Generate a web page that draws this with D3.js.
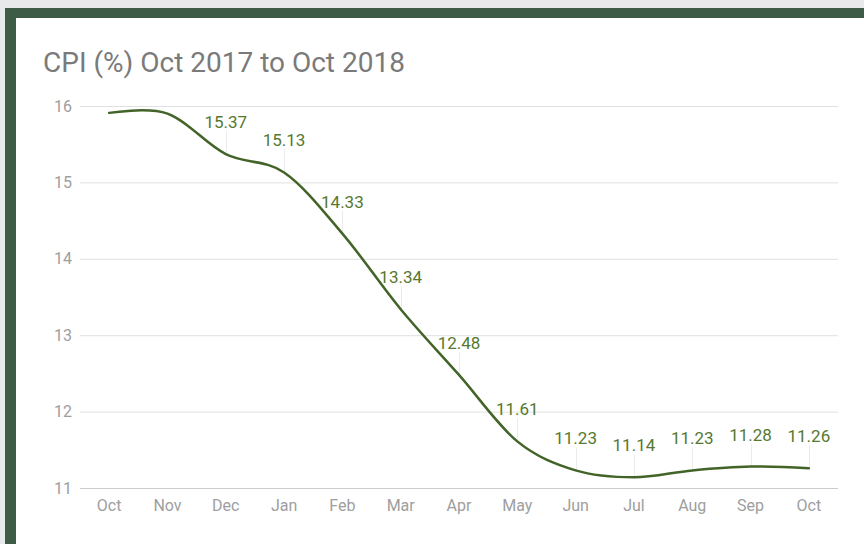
<!DOCTYPE html>
<html><head><meta charset="utf-8">
<script src="https://cdn.jsdelivr.net/npm/d3@7"></script>
<style>
html,body{margin:0;padding:0;background:#e8e9ea;}
svg{display:block;}
</style></head>
<body>
<svg id="chart" width="864" height="544"></svg>
<script>
const months = ["Oct","Nov","Dec","Jan","Feb","Mar","Apr","May","Jun","Jul","Aug","Sep","Oct"];
const cpi = [15.91, 15.90, 15.37, 15.13, 14.33, 13.34, 12.48, 11.61, 11.23, 11.14, 11.23, 11.28, 11.26];
const showLabel = [false, false, true, true, true, true, true, true, true, true, true, true, true];
const yTicks = [11, 12, 13, 14, 15, 16];
const title = "CPI (%) Oct 2017 to Oct 2018";

const svg = d3.select("#chart");
// frame
svg.append("rect").attr("x",5).attr("y",8).attr("width",859).attr("height",536).attr("fill","#3d5b46");
svg.append("rect").attr("x",16).attr("y",18).attr("width",848).attr("height",526).attr("fill","#ffffff");

svg.append("text").attr("x",43).attr("y",72).text(title)
  .attr("font-family","Roboto").attr("font-size",28).attr("fill","#7a7a7a");

const idx = months.map((m,i)=>i);
const x = d3.scaleBand().domain(idx).range([80,838]);
const y = d3.scaleLinear().domain([11,16]).range([488,106]);

// grid
const yAxis = d3.axisLeft(y).tickValues(yTicks).tickSize(0).tickPadding(8).tickFormat(d3.format("d"));
const gy = svg.append("g").attr("transform","translate(80,0)").call(yAxis);
gy.select(".domain").remove();
gy.selectAll("text").attr("font-family","Roboto").attr("font-size",16).attr("fill","#9e9e9e");
svg.append("g").selectAll("line").data(yTicks).join("line")
  .attr("x1",80).attr("x2",838).attr("y1",d=>y(d)+0.5).attr("y2",d=>y(d)+0.5)
  .attr("stroke",d=>d===11?"#cccccc":"#e0e0e0").attr("stroke-width",1);

const xAxis = d3.axisBottom(x).tickSize(0).tickPadding(12).tickFormat(i=>months[i]);
const gx = svg.append("g").attr("transform","translate(0,488)").call(xAxis);
gx.select(".domain").remove();
gx.selectAll("text").attr("font-family","Roboto").attr("font-size",16).attr("fill","#9e9e9e");

const cx = i => x(i) + x.bandwidth()/2;

// stems
const lbl = idx.filter(i=>showLabel[i]);
svg.append("g").selectAll("line").data(lbl).join("line")
  .attr("x1",i=>Math.round(cx(i))+0.5).attr("x2",i=>Math.round(cx(i))+0.5)
  .attr("y1",i=>y(cpi[i])-23).attr("y2",i=>y(cpi[i]))
  .attr("stroke","#ebebeb").attr("stroke-width",1);

// line
const line = d3.line().x(i=>cx(i)).y(i=>y(cpi[i])).curve(d3.curveCatmullRom.alpha(0));
svg.append("path").attr("d",line(idx)).attr("fill","none")
  .attr("stroke","#436428").attr("stroke-width",2.5).attr("stroke-linecap","round");

// labels
svg.append("g").selectAll("text").data(lbl).join("text")
  .attr("x",i=>cx(i)).attr("y",i=>y(cpi[i])-26)
  .attr("text-anchor","middle").attr("font-family","Roboto").attr("font-size",17)
  .attr("fill","#56782f").text(i=>cpi[i].toFixed(2));
</script>
</body></html>
